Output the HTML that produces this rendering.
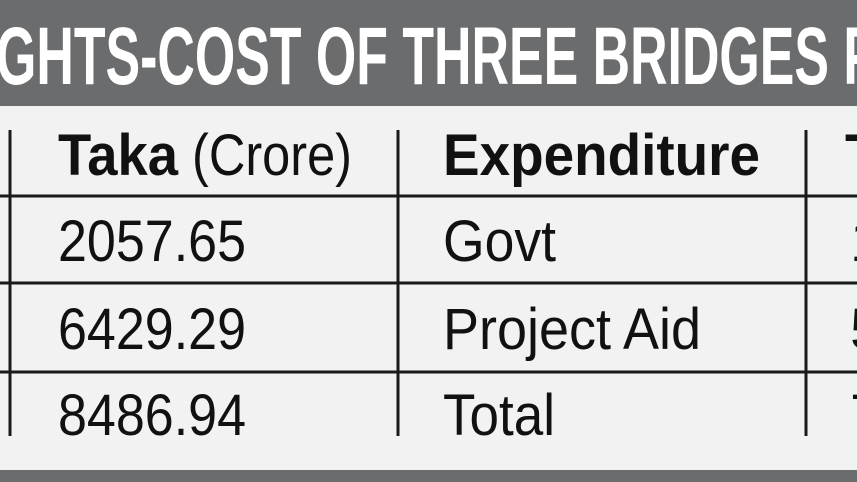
<!DOCTYPE html>
<html><head><meta charset="utf-8"><style>
html,body{margin:0;padding:0;background:#f2f2f2;}
svg{display:block;}
text{font-family:"Liberation Sans",sans-serif;fill:#111;}
</style></head><body>
<svg width="857" height="482" viewBox="0 0 857 482" xmlns="http://www.w3.org/2000/svg">
<defs><clipPath id="c"><rect x="0" y="0" width="857" height="436"/></clipPath></defs>
<rect x="0" y="0" width="857" height="482" fill="#f2f2f2"/>
<rect x="0" y="0" width="857" height="106" fill="#6b6c6e"/>
<text x="-4" y="84" font-size="82" font-weight="bold" style="fill:#fff" textLength="882" lengthAdjust="spacingAndGlyphs">GHTS-COST OF THREE BRIDGES P</text>
<rect x="0" y="470" width="857" height="12" fill="#6b6c6e"/>
<g stroke="#1a1a1a" stroke-width="3">
<line x1="0" y1="196" x2="857" y2="196"/>
<line x1="0" y1="283" x2="857" y2="283"/>
<line x1="0" y1="372" x2="857" y2="372"/>
<line x1="10" y1="130" x2="10" y2="436"/>
<line x1="398" y1="130" x2="398" y2="436"/>
<line x1="806" y1="130" x2="806" y2="436"/>
</g>
<g clip-path="url(#c)" font-size="58">
<text x="58" y="175" font-weight="bold" textLength="120" lengthAdjust="spacingAndGlyphs">Taka</text>
<text x="192" y="175" textLength="160" lengthAdjust="spacingAndGlyphs">(Crore)</text>
<text x="443" y="175" font-weight="bold" textLength="317" lengthAdjust="spacingAndGlyphs">Expenditure</text>
<text x="845" y="175" font-weight="bold">T</text>
<text x="58" y="261" textLength="188" lengthAdjust="spacingAndGlyphs">2057.65</text>
<text x="443" y="261" textLength="113" lengthAdjust="spacingAndGlyphs">Govt</text>
<text x="850" y="261">1</text>
<text x="58" y="349" textLength="188" lengthAdjust="spacingAndGlyphs">6429.29</text>
<text x="443" y="349" textLength="258" lengthAdjust="spacingAndGlyphs">Project Aid</text>
<text x="850" y="349">5</text>
<text x="58" y="435" textLength="188" lengthAdjust="spacingAndGlyphs">8486.94</text>
<text x="443" y="435" textLength="112" lengthAdjust="spacingAndGlyphs">Total</text>
<text x="850" y="435">7</text>
</g>
</svg>
</body></html>
